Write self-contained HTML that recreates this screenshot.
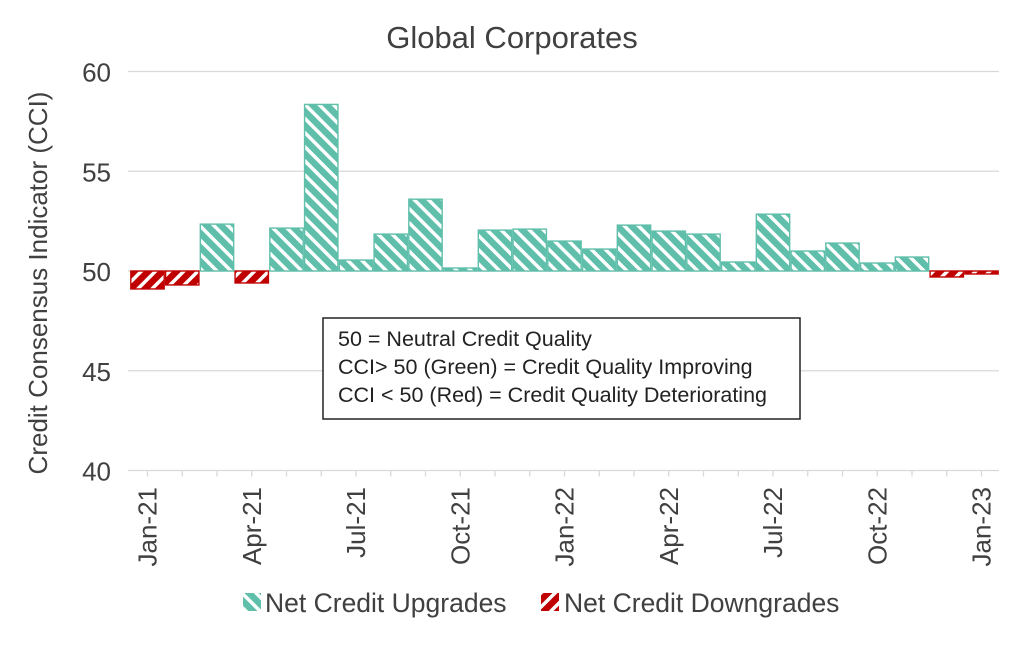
<!DOCTYPE html>
<html><head><meta charset="utf-8"><style>
body{margin:0;background:#fff;}
svg{font-family:"Liberation Sans",Arial,sans-serif;}
</style></head><body>
<svg id="chart" width="1024" height="640" viewBox="0 0 1024 640">
<defs>
<pattern id="hatchUp" patternUnits="userSpaceOnUse" width="10" height="10" patternTransform="rotate(-45)">
<rect width="10" height="10" fill="#5fbfaa"/><rect x="0" y="0" width="3.5" height="10" fill="#fff"/></pattern>
<pattern id="hatchDown" patternUnits="userSpaceOnUse" width="10" height="10" patternTransform="rotate(45)">
<rect width="10" height="10" fill="#c00000"/><rect x="0" y="0" width="3.5" height="10" fill="#fff"/></pattern>
</defs>
<text x="512" y="48" text-anchor="middle" font-size="31" fill="#404040">Global Corporates</text>
<text transform="translate(47,283) rotate(-90)" text-anchor="middle" font-size="26" fill="#404040">Credit Consensus Indicator (CCI)</text>
<g id="grid"></g><g id="bars"></g><g id="axis"></g>
<rect x="323" y="318" width="477" height="101" fill="#fff" stroke="#222" stroke-width="1.5"/>
<text font-size="21.5" fill="#222">
<tspan x="338" y="346">50 = Neutral Credit Quality</tspan>
<tspan x="338" y="374">CCI&gt; 50 (Green) = Credit Quality Improving</tspan>
<tspan x="338" y="402">CCI &lt; 50 (Red) = Credit Quality Deteriorating</tspan>
</text>
<g>
<rect x="243" y="593" width="18" height="18" fill="url(#hatchUp)"/>
<text x="265" y="612" font-size="26.5" fill="#404040">Net Credit Upgrades</text>
<rect x="541" y="593" width="18" height="18" fill="url(#hatchDown)"/>
<text x="564" y="612" font-size="26.5" fill="#404040">Net Credit Downgrades</text>
</g>
</svg>
<script>
const months = ["Jan-21","Feb-21","Mar-21","Apr-21","May-21","Jun-21","Jul-21","Aug-21","Sep-21","Oct-21","Nov-21","Dec-21","Jan-22","Feb-22","Mar-22","Apr-22","May-22","Jun-22","Jul-22","Aug-22","Sep-22","Oct-22","Nov-22","Dec-22","Jan-23"];
const cciValues = [49.1,49.3,52.35,49.4,52.15,58.35,50.55,51.85,53.6,50.15,52.05,52.1,51.5,51.1,52.3,52.0,51.85,50.45,52.85,51.0,51.4,50.4,50.7,49.7,49.85];
const yTicks = [40,45,50,55,60];
const xTickLabels = ["Jan-21","Apr-21","Jul-21","Oct-21","Jan-22","Apr-22","Jul-22","Oct-22","Jan-23"];
const xTickIdx = [0,3,6,9,12,15,18,21,24];
const NS="http://www.w3.org/2000/svg";
const x0=147.5, step=34.75, bw=34.75;
const X=i=>x0+i*step;
const Y=v=>271-(v-50)*19.95;
function mk(t,a,p){const e=document.createElementNS(NS,t);for(const k in a)e.setAttribute(k,a[k]);p.appendChild(e);return e;}
const grid=document.getElementById('grid'),bars=document.getElementById('bars'),axis=document.getElementById('axis');
yTicks.forEach(v=>{
  if(v!==40){const l=mk('line',{x1:128,x2:999,y1:Y(v),y2:Y(v),stroke:'#d9d9d9','stroke-width':1.3},grid);
  
  }
  const t=mk('text',{x:111,y:Y(v)+10,'text-anchor':'end','font-size':26,fill:'#404040'},axis);
  t.textContent=v;
  
  
});
const ax=mk('line',{x1:128,x2:999,y1:Y(40),y2:Y(40),stroke:'#d9d9d9','stroke-width':1.3},axis);


months.forEach((m,i)=>{
  mk('line',{x1:X(i),x2:X(i),y1:Y(40),y2:Y(40)+6,stroke:'#d9d9d9','stroke-width':1.3},axis);
  const v=cciValues[i];
  const up=v>=50;
  const y=Math.min(Y(v),Y(50)),h=Math.abs(Y(v)-Y(50));
  const r=mk('rect',{x:X(i)-bw/2+0.7,y:y,width:bw-1.4,height:Math.max(h,1),fill:up?'url(#hatchUp)':'url(#hatchDown)',stroke:up?'#5fbfaa':'#c00000','stroke-width':1.4},bars);
  
  
});
xTickLabels.forEach((lab,j)=>{
  const x=X(xTickIdx[j]);
  const t=mk('text',{transform:`translate(${x+9},487) rotate(-90)`,'text-anchor':'end','font-size':26,fill:'#404040'},axis);
  t.textContent=lab;
  
  
});
</script>
</body></html>
